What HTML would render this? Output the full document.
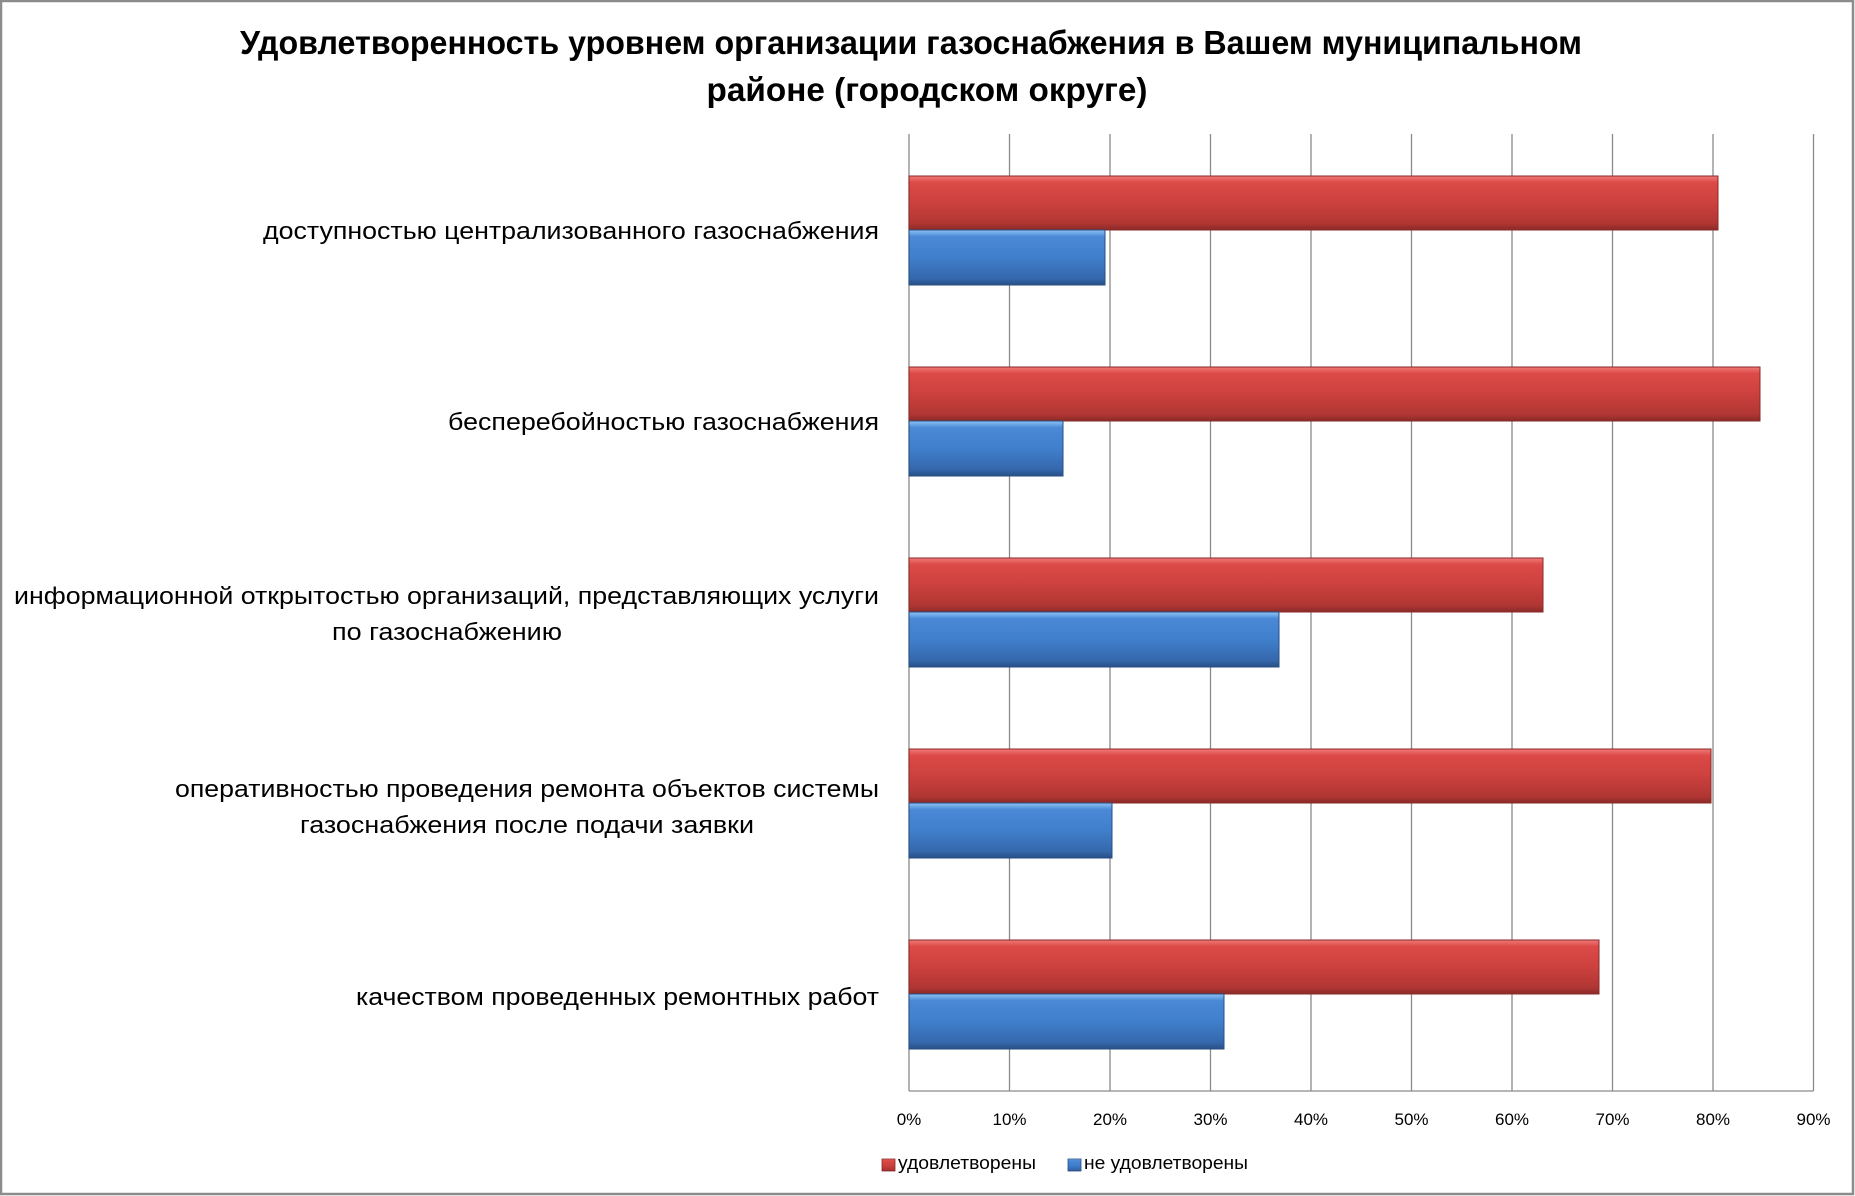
<!DOCTYPE html>
<html><head><meta charset="utf-8"><style>
html,body{margin:0;padding:0;background:#fff}
svg{display:block}
text{font-family:"Liberation Sans","DejaVu Sans",sans-serif}
</style></head><body>
<svg width="1855" height="1196" viewBox="0 0 1855 1196" xmlns="http://www.w3.org/2000/svg">
<defs>
<linearGradient id="rg" x1="0" y1="0" x2="0" y2="1">
<stop offset="0" stop-color="#f07a78"/><stop offset="0.12" stop-color="#dc4a47"/><stop offset="0.5" stop-color="#cc413e"/><stop offset="0.88" stop-color="#b03633"/><stop offset="1" stop-color="#8a2a28"/></linearGradient>
<linearGradient id="bg" x1="0" y1="0" x2="0" y2="1">
<stop offset="0" stop-color="#8ec4f4"/><stop offset="0.12" stop-color="#4b89d6"/><stop offset="0.5" stop-color="#407fcc"/><stop offset="0.88" stop-color="#3568ad"/><stop offset="1" stop-color="#274f85"/></linearGradient>
</defs>
<rect x="1" y="1" width="1852" height="1193" fill="#fff" stroke="#8c8c8c" stroke-width="2.5"/>
<text x="911" y="54" text-anchor="middle" font-size="33" font-weight="bold" textLength="1342" lengthAdjust="spacingAndGlyphs">Удовлетворенность уровнем организации газоснабжения в Вашем муниципальном</text>
<text x="927" y="101" text-anchor="middle" font-size="33" font-weight="bold" textLength="441" lengthAdjust="spacingAndGlyphs">районе (городском округе)</text>
<g stroke="#8a8a8a" stroke-width="1.3">
<line x1="909" y1="134" x2="909" y2="1091"/>
<line x1="1009.5" y1="134" x2="1009.5" y2="1091"/>
<line x1="1110" y1="134" x2="1110" y2="1091"/>
<line x1="1210.5" y1="134" x2="1210.5" y2="1091"/>
<line x1="1311" y1="134" x2="1311" y2="1091"/>
<line x1="1411.5" y1="134" x2="1411.5" y2="1091"/>
<line x1="1512" y1="134" x2="1512" y2="1091"/>
<line x1="1612.5" y1="134" x2="1612.5" y2="1091"/>
<line x1="1713" y1="134" x2="1713" y2="1091"/>
<line x1="1813.5" y1="134" x2="1813.5" y2="1091"/>
<line x1="909" y1="1091" x2="1813.5" y2="1091"/>
</g>
<g stroke-width="1">
<rect x="909" y="176" width="809" height="54" fill="url(#rg)" stroke="#8a2a28"/>
<rect x="909" y="230" width="196" height="55" fill="url(#bg)" stroke="#274f85"/>
<rect x="909" y="367" width="851" height="54" fill="url(#rg)" stroke="#8a2a28"/>
<rect x="909" y="421" width="154" height="55" fill="url(#bg)" stroke="#274f85"/>
<rect x="909" y="558" width="634" height="54" fill="url(#rg)" stroke="#8a2a28"/>
<rect x="909" y="612" width="370" height="55" fill="url(#bg)" stroke="#274f85"/>
<rect x="909" y="749" width="802" height="54" fill="url(#rg)" stroke="#8a2a28"/>
<rect x="909" y="803" width="203" height="55" fill="url(#bg)" stroke="#274f85"/>
<rect x="909" y="940" width="690" height="54" fill="url(#rg)" stroke="#8a2a28"/>
<rect x="909" y="994" width="315" height="55" fill="url(#bg)" stroke="#274f85"/>
</g>
<g font-size="24" text-anchor="end" fill="#000">
<text x="879" y="239" textLength="616" lengthAdjust="spacingAndGlyphs">доступностью  централизованного газоснабжения</text>
<text x="879" y="430" textLength="431" lengthAdjust="spacingAndGlyphs">бесперебойностью  газоснабжения</text>
<text x="879" y="604" textLength="865" lengthAdjust="spacingAndGlyphs">информационной открытостью  организаций, представляющих услуги</text>
<text x="562" y="640" textLength="230" lengthAdjust="spacingAndGlyphs">по газоснабжению</text>
<text x="879" y="797" textLength="704" lengthAdjust="spacingAndGlyphs">оперативностью проведения ремонта объектов системы</text>
<text x="754" y="833" textLength="454" lengthAdjust="spacingAndGlyphs">газоснабжения после подачи заявки</text>
<text x="879" y="1005" textLength="523" lengthAdjust="spacingAndGlyphs">качеством проведенных ремонтных работ</text>
</g>
<g font-size="17" text-anchor="middle" fill="#000">
<text x="909" y="1125">0%</text><text x="1009.5" y="1125">10%</text><text x="1110" y="1125">20%</text><text x="1210.5" y="1125">30%</text><text x="1311" y="1125">40%</text><text x="1411.5" y="1125">50%</text><text x="1512" y="1125">60%</text><text x="1612.5" y="1125">70%</text><text x="1713" y="1125">80%</text><text x="1813.5" y="1125">90%</text>
</g>
<rect x="882" y="1159" width="13" height="12" fill="url(#rg)" stroke="#8a2a28" stroke-width="0.8"/>
<text x="898" y="1169" font-size="18" textLength="138" lengthAdjust="spacingAndGlyphs">удовлетворены</text>
<rect x="1068" y="1159" width="13" height="12" fill="url(#bg)" stroke="#274f85" stroke-width="0.8"/>
<text x="1084" y="1169" font-size="18" textLength="164" lengthAdjust="spacingAndGlyphs">не удовлетворены</text>
</svg>
</body></html>
